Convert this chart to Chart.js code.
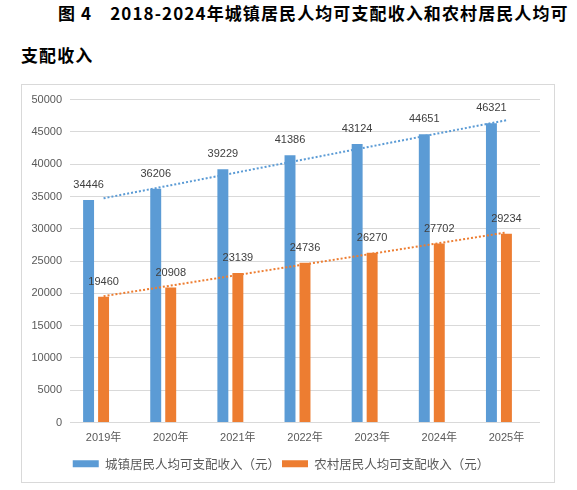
<!DOCTYPE html>
<html>
<head>
<meta charset="utf-8">
<script src="https://cdn.jsdelivr.net/npm/chart.js@4.4.1/dist/chart.umd.min.js"></script>
<style>
  body { margin: 0; background: #fff; width: 577px; height: 490px; position: relative; overflow: hidden; }
  .title { position: absolute; font-family: "Noto Sans CJK SC", sans-serif; font-weight: bold; font-size: 17px;
           color: #000; letter-spacing: 1.1px; white-space: pre; line-height: 20px; }
  #t1 { left: 58px; top: 3px; }
  #t2 { left: 21px; top: 45px; }
  #box { position: absolute; left: 21px; top: 84px; width: 534px; height: 399px; border: 1px solid #d9d9d9; box-sizing: border-box; }
  #chart { position: absolute; left: 0; top: 0; }
</style>
</head>
<body>
<div class="title" id="t1">图 4<span style="margin-left:18px">2018-2024年城镇居民人均可支配收入和农村居民人均可</span></div>
<div class="title" id="t2">支配收入</div>
<div id="box"><canvas id="chart" width="532" height="397"></canvas></div>
<script>
const years = ['2019年', '2020年', '2021年', '2022年', '2023年', '2024年', '2025年'];
const urbanIncome = [34446, 36206, 39229, 41386, 43124, 44651, 46321];
const ruralIncome = [19460, 20908, 23139, 24736, 26270, 27702, 29234];
// dotted trend lines
const urbanTrend = [34720, 36740, 38750, 40770, 42780, 44800, 46810];
const ruralTrend = [19560, 21200, 22850, 24490, 26140, 27780, 29430];
const yTicks = [0, 5000, 10000, 15000, 20000, 25000, 30000, 35000, 40000, 45000, 50000];

const BLUE = '#5b9bd5';
const ORANGE = '#ed7d31';
const TEXT = '#595959';
const NUM_FONT = '"Liberation Sans", "Noto Sans CJK SC", sans-serif';

// value labels above the two bar series
const barLabels = {
  id: 'barLabels',
  afterDatasetsDraw(chart) {
    const ctx = chart.ctx;
    ctx.save();
    ctx.font = '11px ' + NUM_FONT;
    ctx.fillStyle = '#404040';
    ctx.textAlign = 'center';
    ctx.textBaseline = 'middle';
    [0, 1].forEach(i => {
      chart.getDatasetMeta(i).data.forEach((bar, j) => {
        ctx.fillText(String(chart.data.datasets[i].data[j]), bar.x, bar.y - 15);
      });
    });
    ctx.restore();
  }
};

new Chart(document.getElementById('chart'), {
  type: 'bar',
  data: {
    labels: years,
    datasets: [
      { label: '城镇居民人均可支配收入（元）', data: urbanIncome, backgroundColor: BLUE, categoryPercentage: 0.67, barPercentage: 0.73 },
      { label: '农村居民人均可支配收入（元）', data: ruralIncome, backgroundColor: ORANGE, categoryPercentage: 0.67, barPercentage: 0.73 },
      // empty third slot, so the orange bar sits on the category centre like in the original
      { label: '', data: years.map(() => null), backgroundColor: 'rgba(0,0,0,0)', categoryPercentage: 0.67, barPercentage: 0.73 },
      { type: 'line', label: 'urban trend', data: urbanTrend, borderColor: BLUE, borderWidth: 2, borderDash: [2, 2],
        pointRadius: 0, fill: false, tension: 0, order: -1 },
      { type: 'line', label: 'rural trend', data: ruralTrend, borderColor: ORANGE, borderWidth: 2, borderDash: [2, 2],
        pointRadius: 0, fill: false, tension: 0, order: -1 },
    ]
  },
  options: {
    responsive: false,
    animation: false,
    layout: { padding: { top: 13, right: 14, left: 0, bottom: 2 } },
    scales: {
      x: {
        grid: { display: false, drawTicks: false },
        border: { display: false },
        ticks: { color: TEXT, font: { size: 11, family: NUM_FONT }, padding: 9 },
        afterFit(s) { s.height = 33; }
      },
      y: {
        min: 0, max: 50000,
        afterBuildTicks(s) { s.ticks = yTicks.map(v => ({ value: v })); },
        grid: { color: '#d9d9d9', drawTicks: false },
        border: { display: false },
        ticks: { color: TEXT, font: { size: 11, family: NUM_FONT }, padding: 8, callback: v => String(v) },
        afterFit(s) { s.width = 48; }
      }
    },
    plugins: {
      legend: {
        position: 'bottom',
        labels: {
          filter: item => item.datasetIndex < 2,
          boxWidth: 26, boxHeight: 7,
          color: TEXT,
          font: { size: 12.5, family: '"Noto Sans CJK SC", sans-serif' },
          padding: 2
        }
      },
      tooltip: { enabled: false }
    }
  },
  plugins: [barLabels]
});
</script>
</body>
</html>
